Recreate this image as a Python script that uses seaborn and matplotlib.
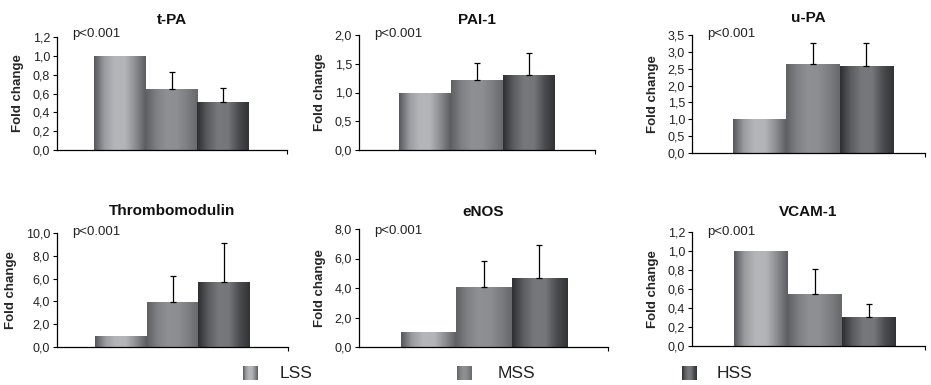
import numpy as np
import pandas as pd
import matplotlib
matplotlib.use("Agg")
import matplotlib.pyplot as plt
from matplotlib.colors import LinearSegmentedColormap
import seaborn as sns

sns.set_style("white")
plt.rcParams['font.family'] = ['Liberation Sans', 'DejaVu Sans']

# ---- data ----
conditions = ["LSS", "MSS", "HSS"]
genes = ["t-PA", "PAI-1", "u-PA", "Thrombomodulin", "eNOS", "VCAM-1"]
tpa_vals = [1.0, 0.65, 0.51]
tpa_err = [0.0, 0.18, 0.15]
pai1_vals = [1.0, 1.21, 1.31]
pai1_err = [0.0, 0.30, 0.37]
upa_vals = [1.0, 2.64, 2.58]
upa_err = [0.0, 0.61, 0.67]
tm_vals = [1.0, 3.92, 5.67]
tm_err = [0.0, 2.34, 3.45]
enos_vals = [1.0, 4.04, 4.65]
enos_err = [0.0, 1.81, 2.27]
vcam_vals = [1.0, 0.546, 0.304]
vcam_err = [0.0, 0.26, 0.14]
ymax = [1.2, 2.0, 3.5, 10.0, 8.0, 1.2]
ystep = [0.2, 0.5, 0.5, 2.0, 2.0, 0.2]
p_label = "p<0.001"

values = [tpa_vals, pai1_vals, upa_vals, tm_vals, enos_vals, vcam_vals]
errors = [tpa_err, pai1_err, upa_err, tm_err, enos_err, vcam_err]

# ---- styles ----
grad_colors = {
    "LSS": ["#55575c", "#9a9ca0", "#b4b6ba", "#b2b4b8", "#8a8c90", "#5a5c60"],
    "MSS": ["#5e6064", "#7e8084", "#8e9094", "#8c8e92", "#7c7e82", "#66686c"],
    "HSS": ["#2c2e32", "#5a5c60", "#76787c", "#74767a", "#4a4c50", "#303236"],
}
cmaps = {k: LinearSegmentedColormap.from_list(k, v) for k, v in grad_colors.items()}
palette = {k: v[2] for k, v in grad_colors.items()}
grad = np.linspace(0, 1, 256).reshape(1, -1)

W, H = 931, 385
fig = plt.figure(figsize=(W / 100, H / 100), dpi=100)

# axes pixel boxes: (left, right, bottom, top), xlims, title y, p-label y
boxes = [
    (57, 287, 150, 37),
    (359, 595, 150, 35),
    (692, 925, 153, 35),
    (57, 288, 347, 233),
    (359, 608, 347, 229),
    (692, 925, 346, 232),
]
xlims = [(-1.216, 3.235), (-1.27, 3.27), (-1.27, 3.10),
         (-1.235, 3.235), (-1.26, 3.24), (-1.28, 3.04)]
title_y = [19.5, 19.5, 18.5, 211, 212, 212]
p_y = [34, 34, 34, 232, 231, 232]


def fmt(v):
    return f"{v:.1f}".replace(".", ",")


for i, gene in enumerate(genes):
    l, r, b, t = boxes[i]
    ax = fig.add_axes([l / W, 1 - b / H, (r - l) / W, (b - t) / H])
    df = pd.DataFrame({"condition": conditions, "value": values[i]})
    sns.barplot(data=df, x="condition", y="value", hue="condition",
                order=conditions, hue_order=conditions, palette=palette,
                width=1.0, dodge=False, legend=False, ax=ax, linewidth=0,
                errorbar=None)
    # gradient overlay clipped to bars
    for patch, cond in zip(ax.patches, conditions):
        x0, y0 = patch.get_x(), patch.get_y()
        w, h = patch.get_width(), patch.get_height()
        im = ax.imshow(grad, cmap=cmaps[cond], aspect="auto",
                       extent=[x0, x0 + w, y0, y0 + h], zorder=2,
                       interpolation="bicubic")
        im.set_clip_path(patch)
    # upper error bars
    for j, (v, e) in enumerate(zip(values[i], errors[i])):
        if e > 0:
            ax.errorbar(j, v, yerr=[[0], [e]], fmt="none", ecolor="black",
                        elinewidth=0.9, capsize=2.3, capthick=0.9, zorder=3)
    ax.set_xlim(*xlims[i])
    ax.set_ylim(0, ymax[i])
    yt = np.round(np.arange(0, ymax[i] + 1e-9, ystep[i]), 2)
    ax.set_yticks(yt)
    ax.set_yticklabels([fmt(v) for v in yt], fontsize=9, color="#222222")
    ax.set_xticks([xlims[i][1]])
    ax.set_xticklabels([""])
    ax.tick_params(axis="both", direction="out", length=3, width=0.8,
                   color="black", pad=2, left=True, bottom=True)
    for s in ["top", "right"]:
        ax.spines[s].set_visible(False)
    for s in ["left", "bottom"]:
        ax.spines[s].set_color("black")
        ax.spines[s].set_linewidth(0.9)
    ax.set_xlabel("")
    ax.set_ylabel("Fold change", fontsize=9.5, fontweight="bold", labelpad=6)
    ty = (b - title_y[i]) / (b - t)
    ax.text(0.5, ty, gene, transform=ax.transAxes, fontsize=11,
            fontweight="bold", ha="center", va="center", color="#111111")
    py = (b - p_y[i]) / (b - t)
    ax.text(15 / (r - l), py, p_label, transform=ax.transAxes, fontsize=9.5,
            color="#222222", ha="left", va="center")

# legend
leg_items = [("LSS", 243, 280), ("MSS", 457, 498), ("HSS", 682, 717)]
for cond, sx, tx in leg_items:
    lax = fig.add_axes([sx / W, 1 - 380 / H, 15 / W, 14 / H])
    lax.imshow(grad, cmap=cmaps[cond], aspect="auto", interpolation="bicubic")
    lax.set_axis_off()
    fig.text(tx / W, 1 - 373 / H, cond, fontsize=12.5, color="#222222",
             ha="left", va="center")

fig.savefig("out.png", dpi=100)
